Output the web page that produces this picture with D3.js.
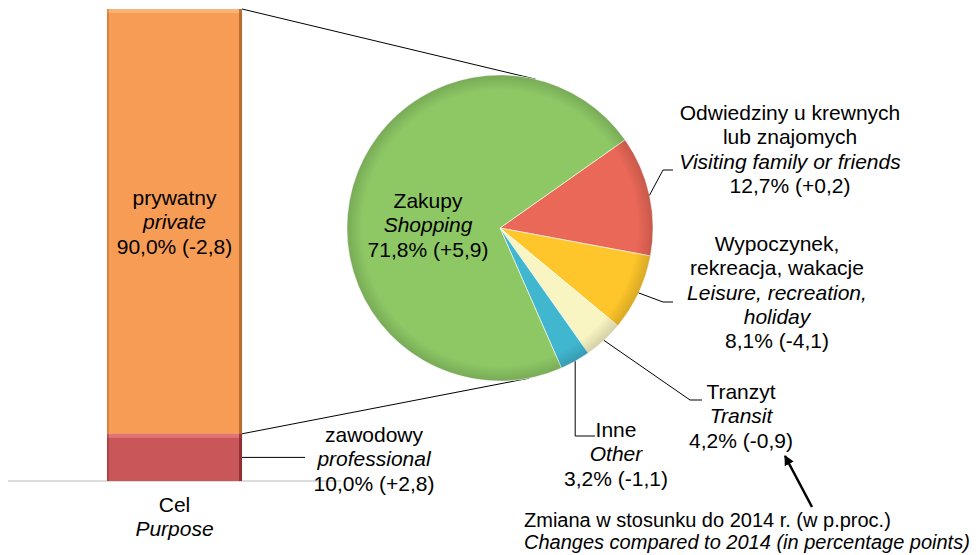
<!DOCTYPE html>
<html>
<head>
<meta charset="utf-8">
<script src="https://cdn.jsdelivr.net/npm/d3@7"></script>
<style>
  body { margin: 0; background: #fff; }
  text { font-family: "Liberation Sans", Arial, sans-serif; font-size: 21px; fill: #000; }
  text.note { font-size: 20px; }
</style>
</head>
<body>
<script>
// purpose bar (stacked)
var purposePl = ["prywatny", "zawodowy"];
var purposeEn = ["private", "professional"];
var purposeVals = [90.0, 10.0];
var purposeChg = ["-2,8", "+2,8"];

// pie of the private part (drawing order, clockwise)
var piePl = [["Odwiedziny u krewnych", "lub znajomych"], ["Wypoczynek,", "rekreacja, wakacje"], ["Tranzyt"], ["Inne"], ["Zakupy"]];
var pieEn = [["Visiting family or friends"], ["Leisure, recreation,", "holiday"], ["Transit"], ["Other"], ["Shopping"]];
var pieVals = [12.7, 8.1, 4.2, 3.2, 71.8];
var pieChg = ["+0,2", "-4,1", "-0,9", "-1,1", "+5,9"];

var fmt = function(v){ return d3.format(".1f")(v).replace(".", ","); };

var width = 976, height = 555;

var svg = d3.select("body").append("svg")
    .attr("width", width)
    .attr("height", height);

var defs = svg.append("defs");
defs.append("marker")
    .attr("id", "arrow")
    .attr("viewBox", "0 0 10 10")
    .attr("refX", 9).attr("refY", 5)
    .attr("markerWidth", 4).attr("markerHeight", 4)
    .attr("orient", "auto")
  .append("path")
    .attr("d", "M0,0L10,5L0,10z")
    .attr("fill", "#000");

var rim = defs.append("radialGradient").attr("id", "rim");
rim.append("stop").attr("offset", "0.9").attr("stop-color", "#000").attr("stop-opacity", 0);
rim.append("stop").attr("offset", "1").attr("stop-color", "#000").attr("stop-opacity", 0.15);

// bar scales
var x = d3.scaleBand().domain(["Cel"]).range([8, 341]).paddingOuter(0.733);
var y = d3.scaleLinear().domain([0, 100]).range([481, 9]);

// pie geometry
var cx = 500, cy = 228, r = 153;
var pie = d3.pie().sort(null).value(function(d){ return d; })
    .startAngle(54.8 * Math.PI / 180)
    .endAngle(54.8 * Math.PI / 180 + 2 * Math.PI);
var arcs = pie(pieVals);
var arc = d3.arc().innerRadius(0).outerRadius(r);
var pieColors = ["#EA6858", "#FEC62A", "#F8F5C2", "#40B6CF", "#8DC865"];

// tangent connectors from the bar corners to the circle
var barRight = x("Cel") + x.bandwidth();
function tangent(px, py, side){
    var dx = px - cx, dy = py - cy, d = Math.sqrt(dx*dx + dy*dy);
    var a = Math.atan2(dy, dx) + side * Math.acos(r / d);
    return [cx + r * Math.cos(a), cy + r * Math.sin(a)];
}
var topPt = [barRight, y(100)], botPt = [barRight, y(purposeVals[1])];
[[topPt, tangent(topPt[0], topPt[1], 1)], [botPt, tangent(botPt[0], botPt[1], -1)]].forEach(function(l){
    svg.append("line")
        .attr("x1", l[0][0]).attr("y1", l[0][1])
        .attr("x2", l[1][0]).attr("y2", l[1][1])
        .attr("stroke", "#000").attr("stroke-width", 1);
});

// axis line
svg.append("line")
    .attr("x1", x.range()[0]).attr("x2", x.range()[1])
    .attr("y1", y(0)).attr("y2", y(0))
    .attr("stroke", "#d0d0d0").attr("stroke-width", 1.5);

// stacked bar
var stackData = [
    {v0: purposeVals[1], v1: 100, fill: "#F79C54", dark: "#9A5A22", light: "#FBBE86"},
    {v0: 0, v1: purposeVals[1], fill: "#C9575A", dark: "#7A1E22", light: "#EE8080"}
];
var bars = svg.selectAll(".seg").data(stackData).enter().append("g").attr("class", "seg");
bars.append("rect")
    .attr("x", x("Cel")).attr("width", x.bandwidth())
    .attr("y", function(d){ return y(d.v1); })
    .attr("height", function(d){ return y(d.v0) - y(d.v1); })
    .attr("fill", function(d){ return d.fill; });
bars.append("rect")
    .attr("x", x("Cel")).attr("width", x.bandwidth())
    .attr("y", function(d){ return y(d.v1); })
    .attr("height", 4)
    .attr("fill", function(d){ return d.light; }).attr("opacity", 0.7);
bars.append("rect")
    .attr("x", barRight - 3).attr("width", 3)
    .attr("y", function(d){ return y(d.v1); })
    .attr("height", function(d){ return y(d.v0) - y(d.v1); })
    .attr("fill", function(d){ return d.dark; }).attr("opacity", 0.7);
bars.append("rect")
    .attr("x", x("Cel")).attr("width", 2)
    .attr("y", function(d){ return y(d.v1); })
    .attr("height", function(d){ return y(d.v0) - y(d.v1); })
    .attr("fill", function(d){ return d.dark; }).attr("opacity", 0.35);

// pie
var pg = svg.append("g").attr("transform", "translate(" + cx + "," + cy + ")");
pg.selectAll(".slice").data(arcs).enter().append("path")
    .attr("class", "slice")
    .attr("d", arc)
    .attr("fill", function(d, i){ return pieColors[i]; })
    .attr("stroke", "rgba(255,255,255,0.6)")
    .attr("stroke-width", 1);
pg.append("circle").attr("r", r).attr("fill", "url(#rim)");

// text helper
function label(g, cxp, by, lines, anchor){
    var t = g.append("text").attr("text-anchor", anchor || "middle");
    lines.forEach(function(l, i){
        t.append("tspan")
            .attr("x", cxp).attr("y", by + i * 24.3)
            .style("font-style", l.it ? "italic" : "normal")
            .text(l.t);
    });
    return t;
}
function lines(pl, en, v, chg){
    var out = pl.map(function(s){ return {t: s}; });
    en.forEach(function(s){ out.push({t: s, it: true}); });
    out.push({t: fmt(v) + "% (" + chg + ")"});
    return out;
}

// bar labels
label(svg, x("Cel") + x.bandwidth() / 2, 205, lines([purposePl[0]], [purposeEn[0]], purposeVals[0], purposeChg[0]));
label(svg, 374, 442, lines([purposePl[1]], [purposeEn[1]], purposeVals[1], purposeChg[1]));
svg.append("line")
    .attr("x1", barRight).attr("x2", 305)
    .attr("y1", y(purposeVals[1] / 2)).attr("y2", y(purposeVals[1] / 2))
    .attr("stroke", "#000").attr("stroke-width", 1);
svg.append("rect").attr("x", 310).attr("y", 472).attr("width", 34).attr("height", 14).attr("fill", "#fff").lower();
label(svg, x("Cel") + x.bandwidth() / 2, 512, [{t: "Cel"}, {t: "Purpose", it: true}]);

// pie labels with leader lines
var labelPos = [
    {x: 790, y: 120, elbow: [663, 170], end: [673, 170]},
    {x: 777, y: 251, elbow: [663, 302], end: [673, 302]},
    {x: 741, y: 399, elbow: [690, 400], end: [702, 400]},
    {x: 616, y: 437, elbow: null, end: [595, 436]},
    {x: 428, y: 208}
];
arcs.forEach(function(a, i){
    var p = labelPos[i];
    label(svg, p.x, p.y, lines(piePl[i], pieEn[i], pieVals[i], pieChg[i]));
    if (!p.end) return;
    var m = (a.startAngle + a.endAngle) / 2;
    var s = [cx + r * Math.sin(m), cy - r * Math.cos(m)];
    var el = p.elbow || [s[0], p.end[1]];
    svg.append("path")
        .attr("d", d3.line()([s, el, p.end]))
        .attr("fill", "none").attr("stroke", "#000").attr("stroke-width", 1);
});

// note and arrow
label(svg, 524, 527, [{t: "Zmiana w stosunku do 2014 r. (w p.proc.)"}, {t: "Changes compared to 2014 (in percentage points)", it: true}], "start")
    .attr("class", "note")
    .selectAll("tspan").attr("y", function(d, i){ return 527 + i * 22; });
svg.append("line")
    .attr("x1", 812).attr("y1", 507).attr("x2", 785).attr("y2", 456)
    .attr("stroke", "#000").attr("stroke-width", 2.5)
    .attr("marker-end", "url(#arrow)");
</script>
</body>
</html>
